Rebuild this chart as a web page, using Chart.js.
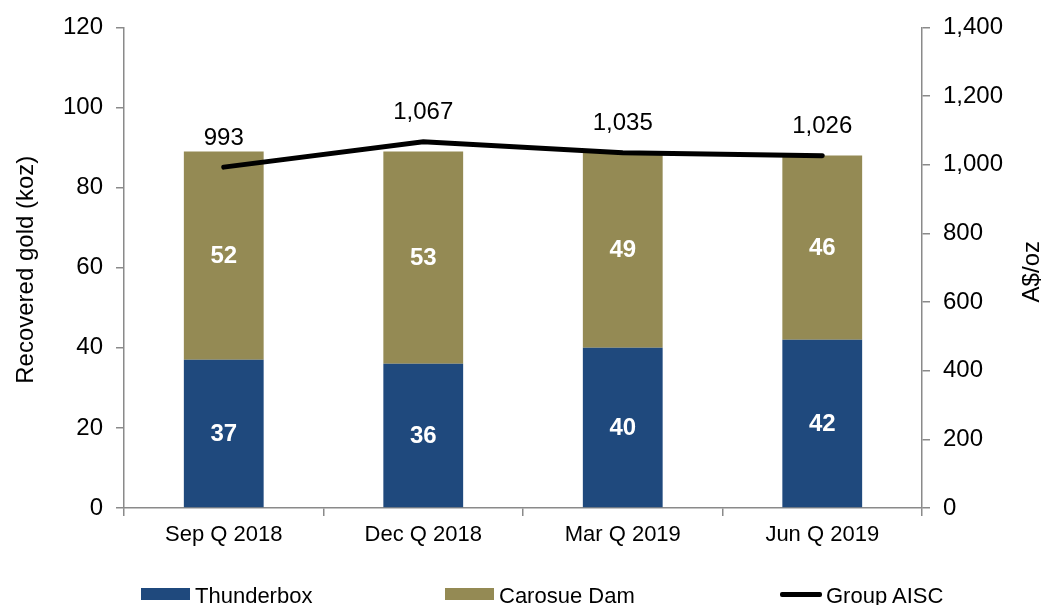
<!DOCTYPE html>
<html>
<head>
<meta charset="utf-8">
<script src="https://cdn.jsdelivr.net/npm/chart.js@4.4.1/dist/chart.umd.min.js"></script>
<style>
  html, body { margin: 0; padding: 0; background: #fff; }
  #wrap { position: relative; width: 1045px; height: 605px; overflow: hidden; }
  #c { position: absolute; left: 0; top: 0; }
  .lg { position: absolute; top: 585px; height: 22px; font: 22px "Liberation Sans", Arial, sans-serif; line-height: 22px; color: #000; white-space: nowrap; }
  .lg .sw { position: absolute; }
</style>
</head>
<body>
<div id="wrap">
  <canvas id="c" width="1045" height="605"></canvas>
</div>
<script>
const categories = ["Sep Q 2018", "Dec Q 2018", "Mar Q 2019", "Jun Q 2019"];
const thunderbox = [37, 36, 40, 42];
const carosueDam = [52, 53, 49, 46];
const groupAISC = [993, 1067, 1035, 1026];
const seriesNames = ["Thunderbox", "Carosue Dam", "Group AISC"];
const leftAxisTitle = "Recovered gold (koz)";
const rightAxisTitle = "A$/oz";

const FONT = '"Liberation Sans", Arial, sans-serif';
const AXIS = '#8a8a8a';
const BLUE = 'rgb(31,73,125)';
const OLIVE = 'rgb(148,138,84)';

const labelsPlugin = {
  id: 'labels',
  afterDatasetsDraw(chart) {
    const ctx = chart.ctx;
    ctx.save();
    chart.data.datasets.forEach((ds, i) => {
      const meta = chart.getDatasetMeta(i);
      meta.data.forEach((el, j) => {
        const v = ds.data[j];
        if (ds.type === 'line') {
          ctx.font = '24px ' + FONT;
          ctx.fillStyle = '#000';
          ctx.textAlign = 'center';
          ctx.textBaseline = 'middle';
          ctx.fillText(v.toLocaleString('en-US'), el.x, el.y - 29);
        } else {
          ctx.font = 'bold 24px ' + FONT;
          ctx.fillStyle = '#fff';
          ctx.textAlign = 'center';
          ctx.textBaseline = 'middle';
          ctx.fillText(String(v), el.x, (el.y + el.base) / 2 + 1);
        }
      });
    });
    // axis titles
    ctx.font = '24px ' + FONT;
    ctx.fillStyle = '#000';
    ctx.textAlign = 'center';
    ctx.textBaseline = 'middle';
    const a = chart.chartArea;
    ctx.save();
    ctx.translate(26, (a.top + a.bottom) / 2 + 2);
    ctx.rotate(-Math.PI / 2);
    ctx.fillText(leftAxisTitle, 0, 0);
    ctx.restore();
    ctx.save();
    ctx.translate(1032, (a.top + a.bottom) / 2 + 4);
    ctx.rotate(-Math.PI / 2);
    ctx.fillText(rightAxisTitle, 0, 0);
    ctx.restore();
    ctx.restore();
  }
};

const chart = new Chart(document.getElementById('c'), {
  data: {
    labels: categories,
    datasets: [
      { type: 'line', label: seriesNames[2], data: groupAISC, yAxisID: 'y2', borderColor: '#000', backgroundColor: '#000', borderWidth: 5, pointRadius: 0, tension: 0, borderCapStyle: 'round', order: 0 },
      { type: 'bar', label: seriesNames[0], data: thunderbox, yAxisID: 'y', backgroundColor: BLUE, stack: 's', order: 1, barPercentage: 0.4, categoryPercentage: 1 },
      { type: 'bar', label: seriesNames[1], data: carosueDam, yAxisID: 'y', backgroundColor: OLIVE, stack: 's', order: 2, barPercentage: 0.4, categoryPercentage: 1 }
    ]
  },
  options: {
    responsive: false,
    animation: false,
    layout: { autoPadding: false, padding: { top: 24, left: 0, right: 0, bottom: 0 } },
    plugins: { legend: { display: false }, tooltip: { enabled: false } },
    scales: {
      x: {
        stacked: true,
        offset: true,
        grid: { display: true, drawOnChartArea: false, offset: true, tickLength: 8, color: AXIS, lineWidth: 1.5 },
        border: { display: true, color: AXIS, width: 1.5 },
        ticks: { color: '#000', font: { family: FONT, size: 22 }, padding: 6, maxRotation: 0 },
        afterFit(s) { s.height = 97; }
      },
      y: {
        position: 'left',
        stacked: true,
        min: 0, max: 120,
        grid: { display: true, drawOnChartArea: false, tickLength: 8, color: AXIS, lineWidth: 1.5 },
        border: { display: true, color: AXIS, width: 1.5 },
        ticks: { stepSize: 20, color: '#000', font: { family: FONT, size: 24 }, padding: 13 },
        afterFit(s) { s.width = 124; }
      },
      y2: {
        position: 'right',
        min: 0, max: 1400,
        grid: { display: true, drawOnChartArea: false, tickLength: 8, color: AXIS, lineWidth: 1.5 },
        border: { display: true, color: AXIS, width: 1.5 },
        ticks: { stepSize: 200, color: '#000', font: { family: FONT, size: 24 }, padding: 13,
                 callback: v => v.toLocaleString('en-US') },
        afterFit(s) { s.width = 123; }
      }
    }
  },
  plugins: [labelsPlugin]
});

// HTML legend built from the chart's datasets
const legendPos = { "Thunderbox": 141, "Carosue Dam": 445, "Group AISC": 780 };
const wrap = document.getElementById('wrap');
[1, 2, 0].forEach(i => {
  const ds = chart.data.datasets[i];
  const item = document.createElement('div');
  item.className = 'lg';
  const left = legendPos[ds.label];
  item.style.left = left + 'px';
  const sw = document.createElement('span');
  sw.className = 'sw';
  if (ds.type === 'line') {
    sw.style.cssText = 'left:0;top:7px;width:42px;height:5px;border-radius:2px;background:' + ds.borderColor;
  } else {
    sw.style.cssText = 'left:0;top:3px;width:49px;height:12px;background:' + ds.backgroundColor;
  }
  item.appendChild(sw);
  const tx = document.createElement('span');
  tx.textContent = ds.label;
  tx.style.marginLeft = (ds.type === 'line' ? 46 : 54) + 'px';
  item.appendChild(tx);
  wrap.appendChild(item);
});
</script>
</body>
</html>
